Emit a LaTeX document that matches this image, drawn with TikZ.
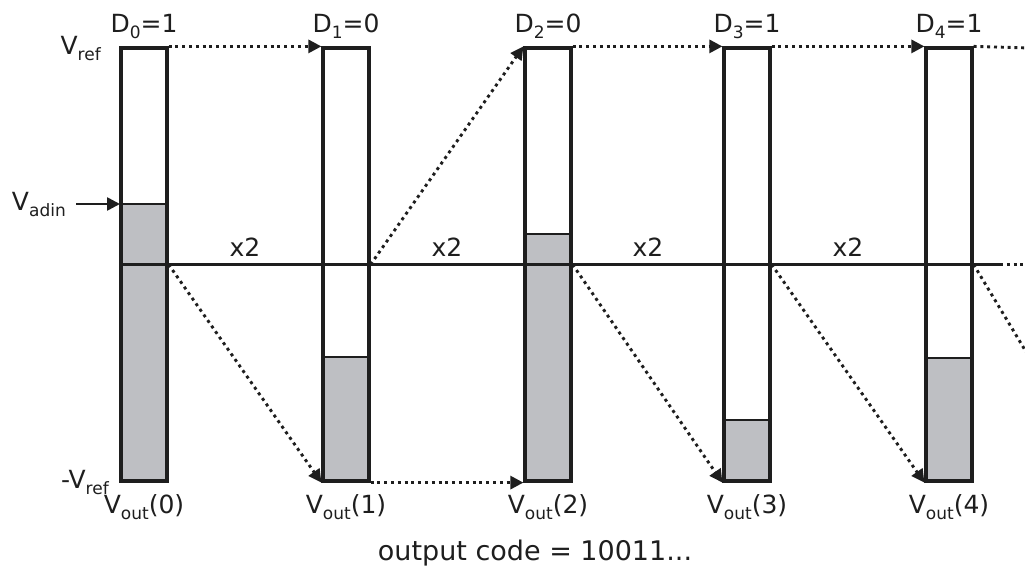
\documentclass[tikz,border=0pt]{standalone}
\usepackage{fontspec}
\setmainfont{DejaVu Sans}
\usetikzlibrary{arrows.meta,backgrounds}
\definecolor{barfill}{RGB}{190,191,195}
\definecolor{ink}{RGB}{30,30,30}
% lowered, smaller text for subscripts
\newcommand{\lo}[1]{\raisebox{-6pt}{\fontsize{17pt}{17pt}\selectfont #1}}

\begin{document}
\begin{tikzpicture}[x=1pt,y=-1pt,
  bar/.style={rectangle, draw=ink, line width=3.2pt, minimum width=46pt,
              minimum height=433pt, inner sep=0pt},
  level/.style={draw=ink, line width=2.8pt},
  axis/.style={draw=ink, line width=3.2pt},
  dots/.style={draw=ink, line width=2.9pt, dash pattern=on 3pt off 3.8pt},
  dotarrow/.style={dots, -{Triangle[length=13pt,width=13pt]}},
  solidarrow/.style={draw=ink, line width=2.6pt, -{Triangle[length=13pt,width=13pt]}},
  lbl/.style={text=ink, font=\fontsize{25pt}{30pt}\selectfont, inner sep=0pt, anchor=base},
  code/.style={text=ink, font=\fontsize{27pt}{32pt}\selectfont, inner sep=0pt, anchor=base}]

\useasboundingbox (0,0) rectangle (1025,567);

% the five residue bars, from -Vref (bottom) to Vref (top)
\node[bar] (c0) at (144,264.5) {};
\node[bar] (c1) at (346,264.5) {};
\node[bar] (c2) at (548,264.5) {};
\node[bar] (c3) at (747,264.5) {};
\node[bar] (c4) at (949,264.5) {};

% voltage levels held in each bar
\coordinate (lv0) at (144,204);
\coordinate (lv1) at (346,357);
\coordinate (lv2) at (548,234);
\coordinate (lv3) at (747,420);
\coordinate (lv4) at (949,358);

\begin{scope}[on background layer]
  \foreach \i in {0,...,4}
    \fill[barfill] (c\i.south west) rectangle (c\i.east |- lv\i);
\end{scope}
\foreach \i in {0,...,4}
  \draw[level] (c\i.west |- lv\i) -- (c\i.east |- lv\i);

% zero line through all bars
\coordinate (axisend) at (1000,264.5);
\coordinate (axistail) at (1030,264.5);
\draw[axis] (c0.west) -- (axisend);
\draw[dots] (axisend) -- (axistail);

% transfers between stages
\draw[dotarrow] (c0.north east) -- (c1.north west);
\draw[dotarrow] (c1.east) -- (c2.north west);
\draw[dotarrow] (c2.north east) -- (c3.north west);
\draw[dotarrow] (c3.north east) -- (c4.north west);
\coordinate (toptail) at (1030,48);
\draw[dots] (c4.north east) -- (toptail);

\draw[dotarrow] (c0.east) -- (c1.south west);
\draw[dotarrow] (c1.south east) -- (c2.south west);
\draw[dotarrow] (c2.east) -- (c3.south west);
\draw[dotarrow] (c3.east) -- (c4.south west);
\coordinate (downtail) at (1040,375);
\draw[dots] (c4.east) -- (downtail);

% input marker
\coordinate (vinstart) at (76,204);
\coordinate (vinend) at (120,204);
\draw[solidarrow] (vinstart) -- (vinend);

% labels
\node[lbl, anchor=base east] (vref) at (101,55) {V\lo{ref}};
\node[lbl, anchor=base east] (vadin) at (66,210) {V\lo{adin}};
\node[lbl, anchor=base east] (mvref) at (109,488) {-V\lo{ref}};

\node[lbl] (d0) at (144,33) {D\lo{0}=1};
\node[lbl] (d1) at (346,33) {D\lo{1}=0};
\node[lbl] (d2) at (548,33) {D\lo{2}=0};
\node[lbl] (d3) at (747,33) {D\lo{3}=1};
\node[lbl] (d4) at (949,33) {D\lo{4}=1};

\node[lbl] (g1) at (245,256) {x2};
\node[lbl] (g2) at (447,256) {x2};
\node[lbl] (g3) at (648,256) {x2};
\node[lbl] (g4) at (848,256) {x2};

\node[lbl] (o0) at (144,513) {V\lo{out}(0)};
\node[lbl] (o1) at (346,513) {V\lo{out}(1)};
\node[lbl] (o2) at (548,513) {V\lo{out}(2)};
\node[lbl] (o3) at (747,513) {V\lo{out}(3)};
\node[lbl] (o4) at (949,513) {V\lo{out}(4)};

\node[code] (codeout) at (535,560) {output code = 10011...};
\end{tikzpicture}
\end{document}
